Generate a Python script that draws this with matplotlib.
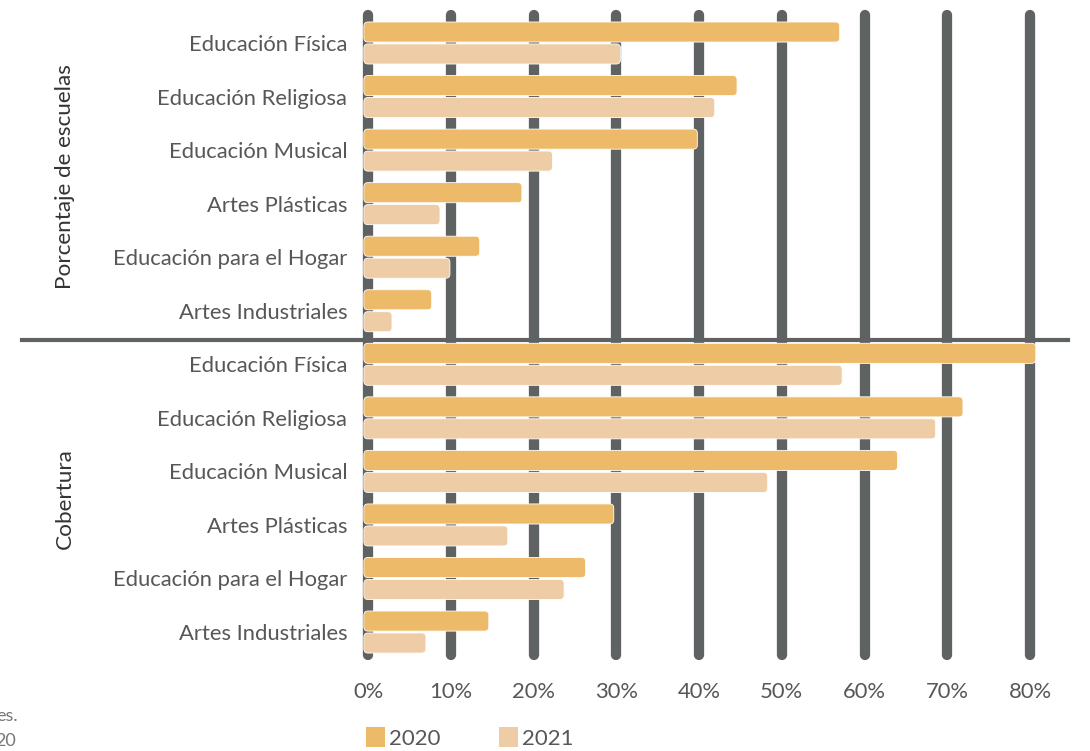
import matplotlib
matplotlib.use("Agg")
import matplotlib.pyplot as plt
from matplotlib.patches import FancyBboxPatch, Patch
from matplotlib import transforms

plt.rcParams["font.family"] = ["Lato", "DejaVu Sans"]

categories = [
    "Educación Física",
    "Educación Religiosa",
    "Educación Musical",
    "Artes Plásticas",
    "Educación para el Hogar",
    "Artes Industriales",
]
groups = ["Porcentaje de escuelas", "Cobertura"]

# share of schools offering each subject
escuelas_2020 = [57.0, 44.6, 39.8, 18.6, 13.5, 7.7]
escuelas_2021 = [30.5, 41.9, 22.3, 8.7, 9.9, 2.9]
# student coverage
cobertura_2020 = [80.7, 71.9, 64.0, 29.7, 26.3, 14.6]
cobertura_2021 = [57.3, 68.6, 48.3, 16.9, 23.7, 7.0]

ticks = [0, 10, 20, 30, 40, 50, 60, 70, 80]
tick_labels = [f"{t}%" for t in ticks]

c2020 = "#EDBA6A"
c2021 = "#EDCCA6"
grid_c = "#5E6262"
text_c = "#575757"
fs = 15.8

W, H = 1090, 751
fig = plt.figure(figsize=(W / 100, H / 100), dpi=100)

# pixel geometry of the plotting area
px_x0, px_per_pct = 368, 8.275
px_row0, px_per_row = 43, 53.55
ax_left, ax_right, ax_top, ax_bot = 350, 1070, 0, 668
ax = fig.add_axes([ax_left / W, 1 - ax_bot / H, (ax_right - ax_left) / W, (ax_bot - ax_top) / H])
ax.set_xlim((ax_left - px_x0) / px_per_pct, (ax_right - px_x0) / px_per_pct)
ax.set_ylim((ax_bot - px_row0) / px_per_row, (ax_top - px_row0) / px_per_row)
for s in ax.spines.values():
    s.set_visible(False)

n_rows = len(categories) * len(groups)

# vertical grid bars with rounded ends
for t in ticks:
    ax.plot([t, t], [-0.52, n_rows - 0.57], color=grid_c, lw=7.4,
            solid_capstyle="round", zorder=1)

aspect = px_per_pct / px_per_row
bar_h = 0.375
off = 0.205
start = -0.5
rows = []
values = [(escuelas_2020, escuelas_2021), (cobertura_2020, cobertura_2021)]
for g, (v20, v21) in enumerate(values):
    for i, cat in enumerate(categories):
        r = g * len(categories) + i
        rows.append(cat)
        for v, dy, col in [(v20[i], -off, c2020), (v21[i], off, c2021)]:
            p = FancyBboxPatch((start, r + dy - bar_h / 2), v - start, bar_h,
                               boxstyle="round,pad=0,rounding_size=0.5",
                               mutation_aspect=aspect, facecolor=col,
                               edgecolor="white", lw=0.6, zorder=3)
            ax.add_patch(p)

ax.set_yticks(range(n_rows))
ax.set_yticklabels(rows, fontsize=fs, color=text_c)
ax.set_xticks(ticks)
ax.set_xticklabels(tick_labels, fontsize=fs, color=text_c)
ax.tick_params(axis="both", length=0)
ax.tick_params(axis="y", pad=2)
ax.tick_params(axis="x", pad=10)

# separator between the two groups
blend = transforms.blended_transform_factory(fig.transFigure, ax.transData)
sep_y = len(categories) - 0.45
ax.plot([22 / W, 1068 / W], [sep_y, sep_y], transform=blend, color=grid_c,
        lw=3, clip_on=False, zorder=2)

# group labels
for g, name in enumerate(groups):
    mid = g * len(categories) + (len(categories) - 1) / 2
    ax.text(65 / W, mid, name, transform=blend, rotation=90, ha="center",
            va="center", fontsize=fs + 0.4, color="#333333")

handles = [Patch(facecolor=c2020, label="2020"), Patch(facecolor=c2021, label="2021")]
fig.legend(handles=handles, loc="center left", bbox_to_anchor=(366 / W, 1 - 738 / H),
           ncol=2, frameon=False, handlelength=0.85, handleheight=1.0,
           handletextpad=0.2, columnspacing=2.6, borderpad=0, borderaxespad=0,
           labelcolor=text_c, prop={"size": 16})

# source note running off the left margin
fig.text(18 / W, 1 - 716 / H, "es.", ha="right", va="center", fontsize=13,
         color="#777777")
fig.text(16 / W, 1 - 741 / H, "20", ha="right", va="center", fontsize=13,
         color="#777777")

fig.savefig("out.png", dpi=100)
